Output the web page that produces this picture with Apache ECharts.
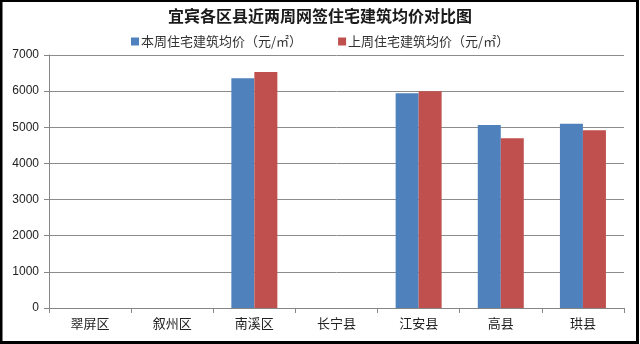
<!DOCTYPE html>
<html>
<head>
<meta charset="utf-8">
<script src="https://cdn.jsdelivr.net/npm/echarts@6/dist/echarts.min.js"></script>
<style>
html,body{margin:0;padding:0;background:#fff;}
#c{width:640px;height:344px;}
</style>
</head>
<body>
<div id="c"></div>
<script>
const categories = ['翠屏区','叙州区','南溪区','长宁县','江安县','高县','珙县'];
const thisWeek = [null, null, 6360, null, 5940, 5060, 5100];
const lastWeek = [null, null, 6530, null, 6000, 4700, 4920];
const seriesNames = ['本周住宅建筑均价（元/㎡）','上周住宅建筑均价（元/㎡）'];
const titleText = '宜宾各区县近两周网签住宅建筑均价对比图';

const font = '"Noto Sans CJK SC", sans-serif';
const chart = echarts.init(document.getElementById('c'), null, {renderer:'canvas'});
chart.setOption({
  animation: false,
  backgroundColor: '#fff',
  textStyle: {fontFamily: font},
  title: {
    text: titleText,
    left: 'center',
    top: 3,
    textStyle: {fontFamily: font, fontSize: 16, fontWeight: 'bold', color: '#1a1a1a'}
  },
  legend: {
    left: 126,
    top: 30,
    itemWidth: 8,
    itemHeight: 8,
    itemGap: 36,
    icon: 'rect',
    textStyle: {fontFamily: font, fontSize: 13, color: '#333', padding: [0,0,0,-3]},
    data: seriesNames
  },
  grid: {left: 49, right: 16, top: 55, bottom: 36, containLabel: false},
  xAxis: {
    type: 'category',
    data: categories,
    axisLine: {lineStyle: {color: '#868686', width: 1}},
    axisTick: {show: true, length: 5, lineStyle: {color: '#868686'}},
    axisLabel: {fontFamily: font, fontSize: 13, color: '#222', margin: 9}
  },
  yAxis: {
    type: 'value',
    min: 0, max: 7000, interval: 1000,
    axisLine: {show: true, lineStyle: {color: '#868686', width: 1}},
    axisTick: {show: true, length: 5, lineStyle: {color: '#868686'}},
    axisLabel: {fontFamily: 'Liberation Sans, Arial, sans-serif', fontSize: 12, color: '#222', margin: 10,
      formatter: function (v) { return String(v); }},
    splitLine: {lineStyle: {color: '#8c8c8c', width: 1}}
  },
  series: [
    {name: seriesNames[0], type: 'bar', data: thisWeek, barWidth: 23, barGap: '0%', itemStyle: {color: '#4F81BD'}},
    {name: seriesNames[1], type: 'bar', data: lastWeek, barWidth: 23, barGap: '0%', itemStyle: {color: '#C0504D'}}
  ],
  graphic: [{
    type: 'rect', silent: true, z: 100,
    shape: {x: 1, y: 0.5, width: 636.5, height: 342},
    style: {fill: 'none', stroke: '#000', lineWidth: 3}
  }]
});
</script>
</body>
</html>
